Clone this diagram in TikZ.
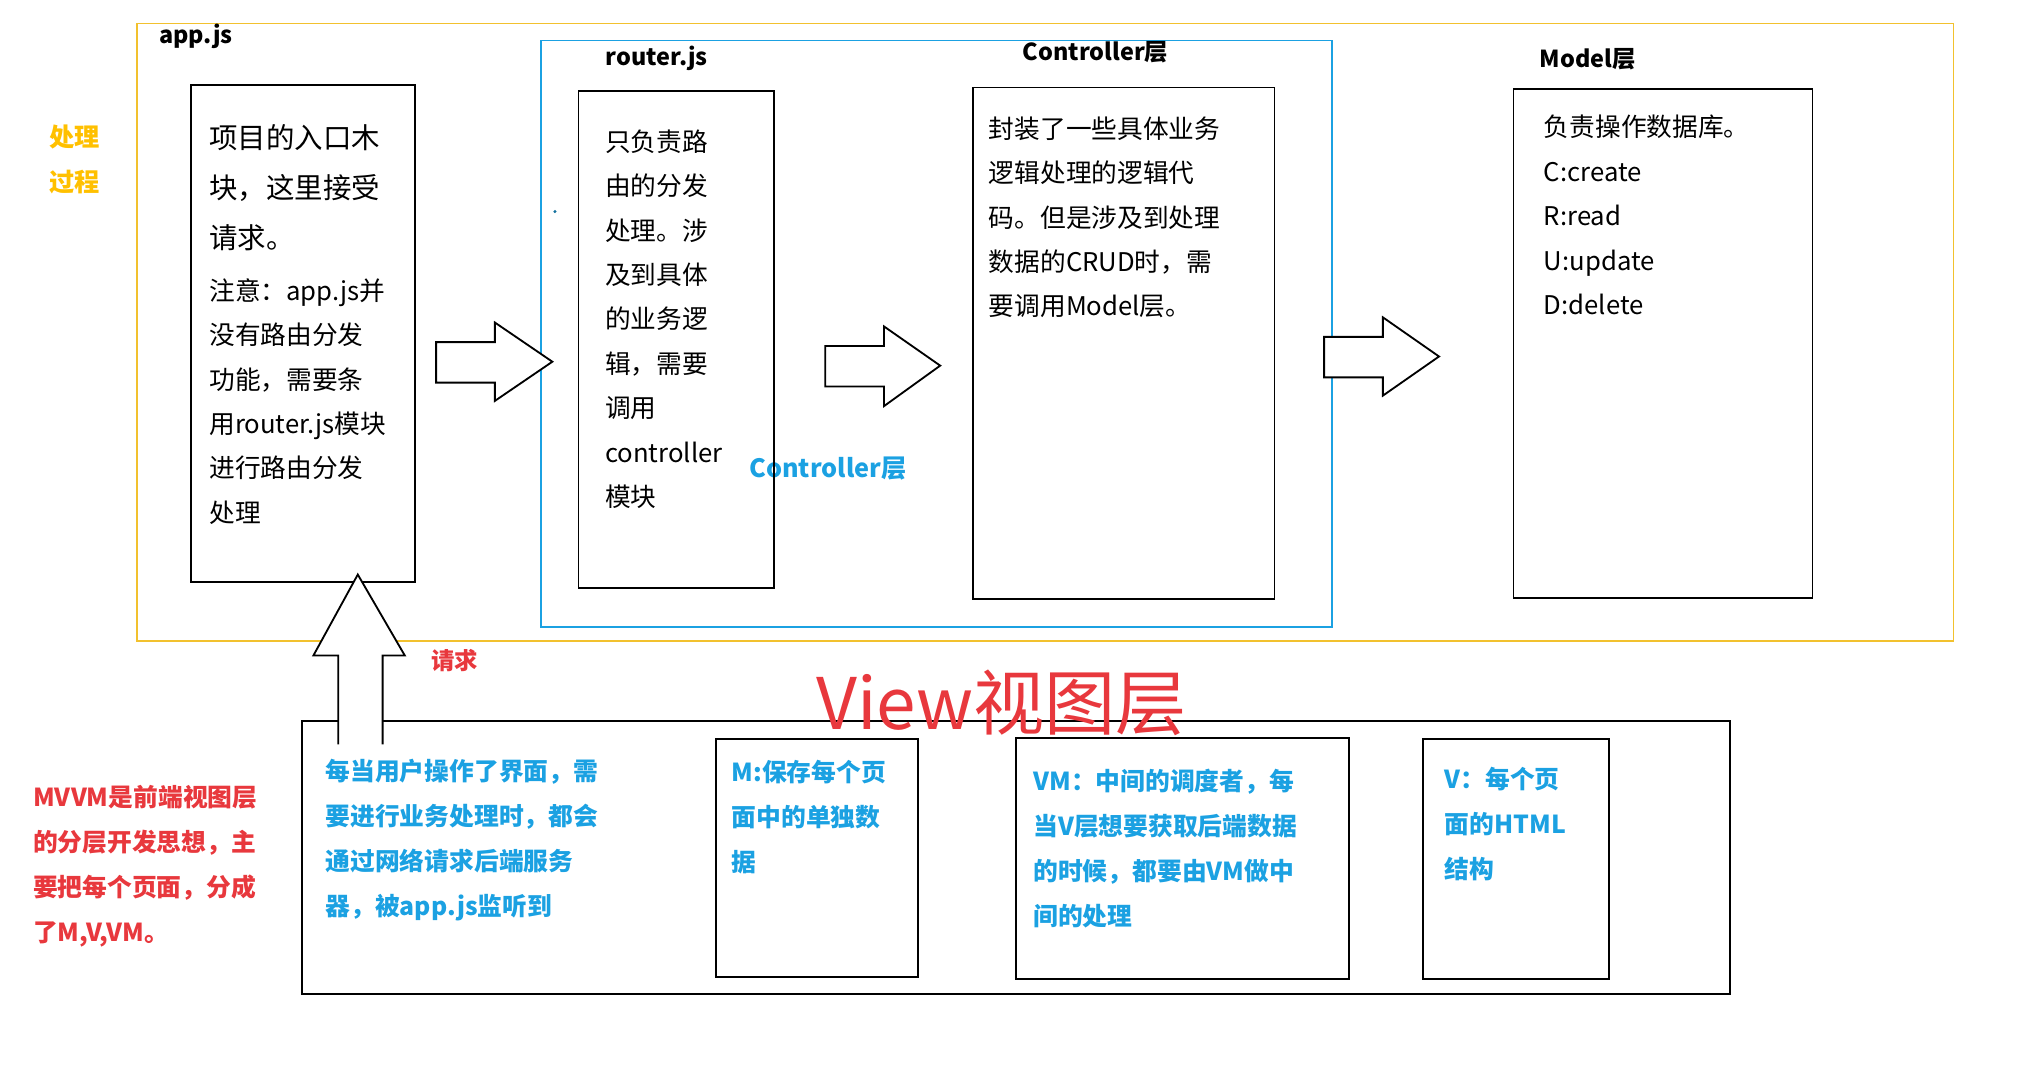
\documentclass[tikz,border=0pt]{standalone}
\usepackage{fontspec}
\setmainfont{Noto Sans CJK SC}
\definecolor{org}{HTML}{F2C12E}
\definecolor{yel}{HTML}{FFC000}
\definecolor{blu}{HTML}{1BA1E2}
\definecolor{rd}{HTML}{E8383D}
\begin{document}
\begin{tikzpicture}[x=0.02cm,y=-0.02cm,
  box/.style={draw=black,line width=0.8pt},
  txt/.style={anchor=north west,inner sep=0,align=left,font=\fontsize{11.2}{19.35}\selectfont},
  bigtxt/.style={anchor=north west,inner sep=0,align=left,font=\fontsize{12.4}{21.8}\selectfont},
  lbl/.style={inner sep=0,font=\fontsize{10.2}{12}\selectfont\bfseries},
  btxt/.style={anchor=north west,inner sep=0,align=left,text=blu,font=\fontsize{10.8}{19.6}\selectfont\bfseries},
  barrow/.style={draw=black,line width=0.8pt,fill=white}]
\useasboundingbox (0,0) rectangle (1550,824);
\draw[org,line width=0.8pt] (105,18) rectangle (1496,491);
\draw[blu,line width=0.8pt] (414,31) rectangle (1020,480);
\node[lbl] (lapp) at (150,28) {app.js};
\node[lbl,text=yel,align=center,font=\fontsize{11}{19.5}\selectfont\bfseries] (proc) at (57,122) {处理\\过程};
\node[lbl] (lrouter) at (503,45) {router.js};
\node[lbl] (lctrl) at (839,40) {Controller层};
\node[lbl] (lmodel) at (1216,45) {Model层};
\node[lbl,text=blu,font=\fontsize{11}{12}\selectfont\bfseries] (lctrl2) at (634,359) {Controller层};
\fill[blu!70!black] (425,162) circle (1.3);
% boxes
\draw[box] (146,65) rectangle (318,446);
\node[bigtxt] (t1) at (160,95) {项目的入口木\\块，这里接受\\请求。};
\node[txt] (t1b) at (160,213) {注意：app.js并\\没有路由分发\\功能，需要条\\用router.js模块\\进行路由分发\\处理};
\draw[box] (443,70) rectangle (593,450);
\node[txt] (t2) at (463,99) {只负责路\\由的分发\\处理。涉\\及到具体\\的业务逻\\辑，需要\\调用\\controller\\模块};
\draw[box] (745,67) rectangle (976,459);
\node[txt] (t3) at (757,89) {封装了一些具体业务\\逻辑处理的逻辑代\\码。但是涉及到处理\\数据的CRUD时，需\\要调用Model层。};
\draw[box] (1159,68) rectangle (1388,458);
\node[txt] (t4) at (1182,88) {负责操作数据库。\\C:create\\R:read\\U:update\\D:delete};
% block arrows
\draw[barrow] (334,262) -- (379,262) -- (379,247) -- (423,277) -- (379,307) -- (379,293) -- (334,293) -- cycle;
\draw[barrow] (632,265) -- (677,265) -- (677,250) -- (720,280) -- (677,311) -- (677,296) -- (632,296) -- cycle;
\draw[barrow] (1014,258) -- (1059,258) -- (1059,243) -- (1102,273) -- (1059,303) -- (1059,289) -- (1014,289) -- cycle;
% bottom
\draw[box] (231,552) rectangle (1325,761);
\draw[barrow] (259,570) -- (259,502) -- (240,502) -- (274,440) -- (310,502) -- (293,502) -- (293,570);
\node[lbl,text=rd] (req) at (348,506) {请求};
\node[inner sep=0,text=rd,font=\fontsize{31}{34}\selectfont] (view) at (767,538) {View视图层};
\node[btxt] (b1) at (249,581) {每当用户操作了界面，需\\要进行业务处理时，都会\\通过网络请求后端服务\\器，被app.js监听到};
\draw[box] (548,566) rectangle (703,748);
\node[btxt] (bm) at (560,582) {M:保存每个页\\面中的单独数\\据};
\draw[box] (778,565) rectangle (1033,750);
\node[btxt] (bvm) at (791,589) {VM：中间的调度者，每\\当V层想要获取后端数据\\的时候，都要由VM做中\\间的处理};
\draw[box] (1090,566) rectangle (1232,750);
\node[btxt] (bv) at (1106,587) {V：每个页\\面的HTML\\结构};
\node[btxt,text=rd] (mvvm) at (25,601) {MVVM是前端视图层\\的分层开发思想，主\\要把每个页面，分成\\了M,V,VM。};
\end{tikzpicture}
\end{document}
